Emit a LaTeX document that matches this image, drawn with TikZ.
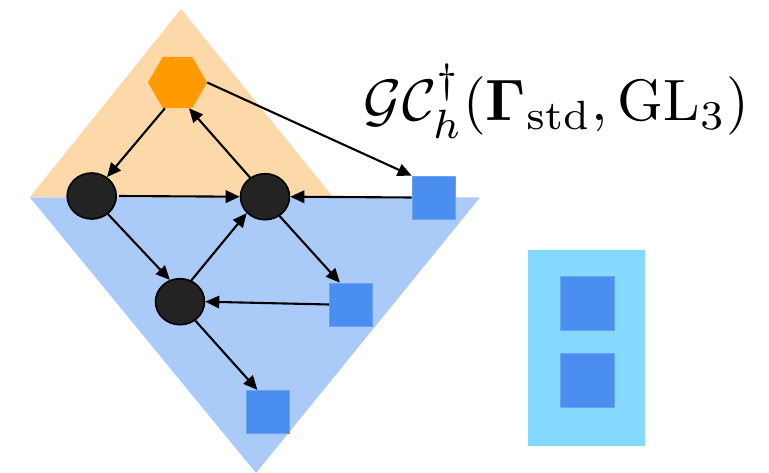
\documentclass[tikz,border=0pt]{standalone}
\usepackage{amsmath,amssymb,bm}
\usetikzlibrary{shapes.geometric,arrows.meta}
\definecolor{peach}{HTML}{FDD9A9}
\definecolor{lblue}{HTML}{AACBF7}
\definecolor{sky}{HTML}{85D9FE}
\definecolor{sqblue}{HTML}{4A8EEF}
\definecolor{sqedge}{HTML}{6AA2F2}
\definecolor{hexor}{HTML}{FF9B00}
\definecolor{dot}{HTML}{232323}
\begin{document}
\begin{tikzpicture}[x=1pt,y=-1pt,
  hexa/.style={regular polygon, regular polygon sides=6, minimum size=59pt, inner sep=0pt, fill=hexor},
  blk/.style={ellipse, minimum width=49pt, minimum height=46pt, inner sep=0pt, fill=dot, draw=black, line width=1.6pt},
  sq/.style={rectangle, minimum size=43pt, inner sep=0pt, fill=sqblue, draw=sqedge, line width=0.6pt},
  bigsq/.style={rectangle, minimum size=54pt, inner sep=0pt, fill=sqblue, draw=sqedge, line width=0.6pt},
  arr/.style={line width=2.1pt, -{Triangle[length=14pt,width=12.5pt]}}]
\useasboundingbox (0,0) rectangle (769,473);
\fill[peach] (181,9) -- (30,197) -- (333,197) -- cycle;
\fill[lblue] (30,197.5) -- (480,197.5) -- (256,473) -- cycle;
\fill[sky] (528,250) rectangle (645,446);
\node[hexa] (H) at (177.5,82.5) {};
\node[blk] (C1) at (91.7,196) {};
\node[blk] (C2) at (265,196.7) {};
\node[blk] (C3) at (180,301.7) {};
\node[sq] (S1) at (433.5,197.5) {};
\node[sq] (S2) at (351,304.5) {};
\node[sq] (S3) at (268,411.7) {};
\node[bigsq] (R1) at (587.5,303) {};
\node[bigsq] (R2) at (587.5,380) {};
\node[anchor=base, inner sep=0pt] (T) at (556.5,121)
  {\resizebox{385pt}{!}{$\mathcal{G}\mathcal{C}_h^{\dagger}(\boldsymbol{\Gamma}_{\mathrm{std}},\mathrm{GL}_3)$}};
\draw[arr] (H.244) -- (C1.51);
\draw[arr] (C2.128) -- (H.-66);
\draw[arr] (H.east) -- (S1.north west);
\draw[arr, shorten <=2pt] (C1.east) -- (C2.west);
\draw[arr] (S1.west) -- (C2.east);
\draw[arr] (C1.-48) -- (C3.115);
\draw[arr] (C3.62) -- (C2.222);
\draw[arr] (C2.-53) -- (S2.117);
\draw[arr] (S2.west) -- (C3.east);
\draw[arr] (C3.-51.5) -- (S3.116);
\end{tikzpicture}
\end{document}
